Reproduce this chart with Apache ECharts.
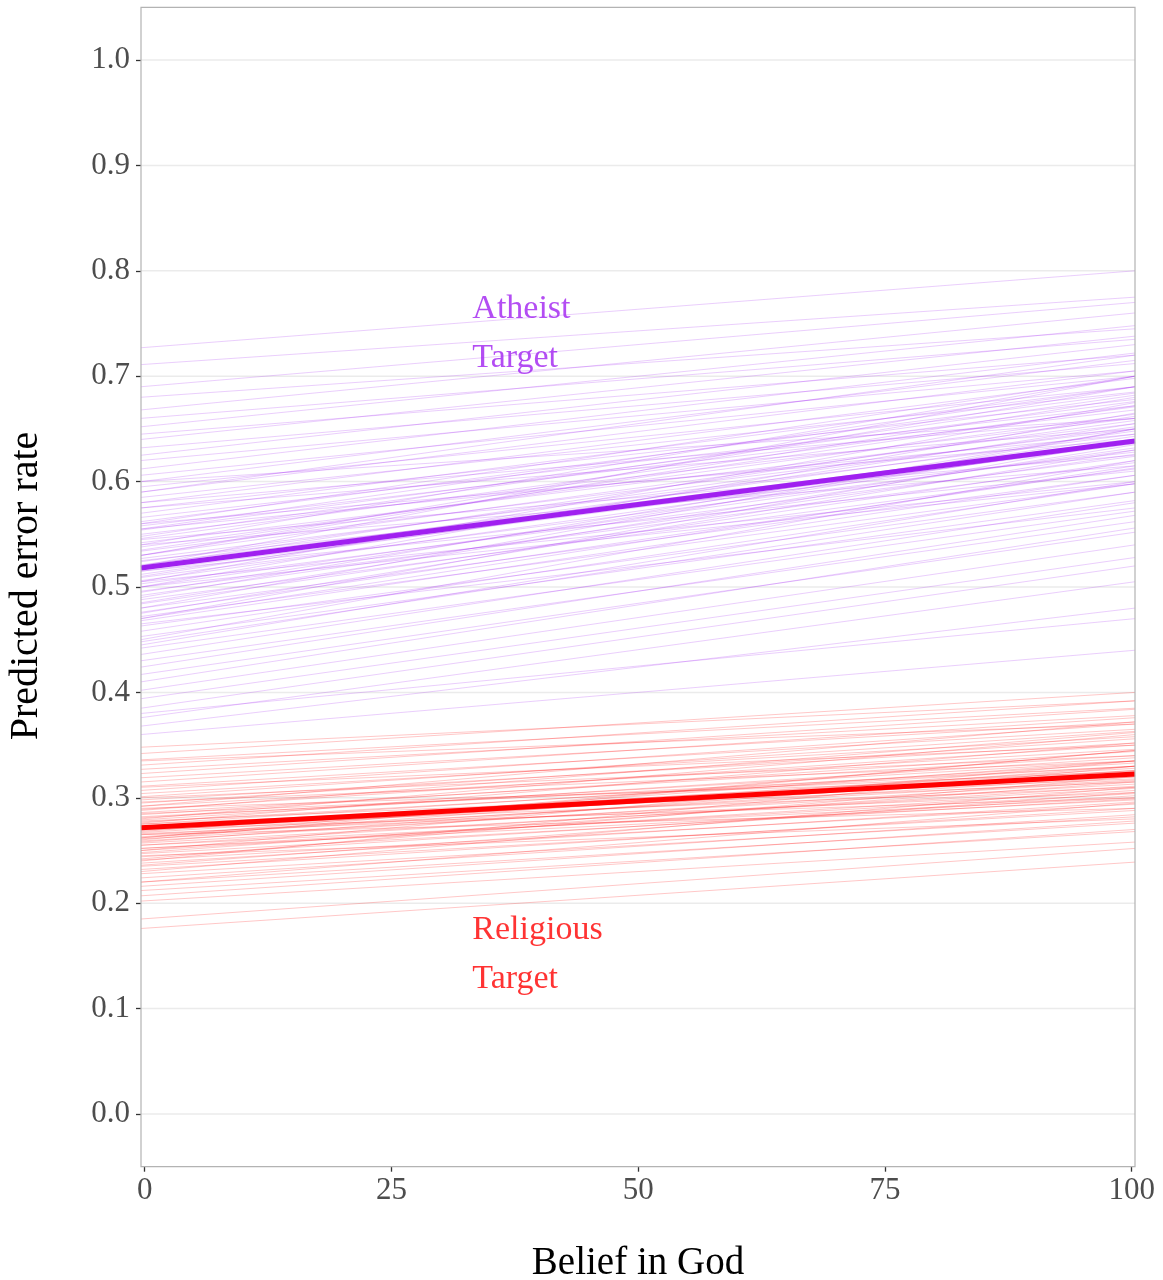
<!DOCTYPE html>
<html>
<head>
<meta charset="utf-8">
<script src="https://cdn.jsdelivr.net/npm/echarts@6/dist/echarts.min.js"></script>
<style>
html,body{margin:0;padding:0;background:#fff;}
#chart{width:1163px;height:1280px;}
</style>
</head>
<body>
<div id="chart"></div>
<script>
// x extent of the panel (lines span the full panel)
var xStart = -0.37;
var xEnd = 100.34;
var xTicks = [0, 25, 50, 75, 100];
var yTicks = [0.0, 0.1, 0.2, 0.3, 0.4, 0.5, 0.6, 0.7, 0.8, 0.9, 1.0];

// Posterior draws, Atheist target: value at left edge, value at right edge
var atheistStart = [0.727,0.711,0.690,0.680,0.668,0.660,0.652,0.645,0.640,0.632,0.625,0.620,0.612,0.606,0.600,0.595,0.590,0.585,0.580,0.575,0.570,0.566,0.562,0.558,0.554,0.550,0.546,0.542,0.538,0.534,0.530,0.527,0.524,0.521,0.518,0.515,0.512,0.509,0.506,0.503,0.500,0.496,0.492,0.488,0.484,0.480,0.476,0.472,0.468,0.463,0.458,0.453,0.448,0.442,0.436,0.430,0.424,0.417,0.410,0.402,0.394,0.385,0.376,0.368,0.470,0.540,0.500,0.560,0.450,0.580,0.380,0.360,0.520,0.600,0.490,0.530,0.545,0.505,0.475,0.555,
  0.535,0.510,0.495,0.525,0.485,0.548,0.515,0.470,0.560,0.500,0.530,0.465,0.590,0.445,0.555,0.520,0.480,0.540,0.575,0.505];
var atheistEnd   = [0.800,0.775,0.770,0.745,0.760,0.735,0.748,0.720,0.738,0.712,0.730,0.705,0.722,0.700,0.715,0.690,0.705,0.685,0.698,0.678,0.690,0.672,0.684,0.668,0.676,0.660,0.671,0.655,0.664,0.650,0.658,0.645,0.652,0.640,0.648,0.636,0.643,0.630,0.638,0.624,0.632,0.618,0.626,0.612,0.620,0.606,0.613,0.598,0.606,0.590,0.598,0.582,0.590,0.572,0.580,0.562,0.568,0.552,0.556,0.540,0.528,0.520,0.505,0.480,0.640,0.615,0.665,0.640,0.620,0.660,0.470,0.440,0.700,0.660,0.650,0.680,0.625,0.600,0.630,0.690,
  0.672,0.655,0.640,0.628,0.635,0.682,0.610,0.615,0.700,0.598,0.690,0.575,0.720,0.600,0.645,0.662,0.650,0.700,0.650,0.675];

// Posterior draws, Religious target
var religiousStart = [0.348,0.342,0.336,0.331,0.327,0.323,0.319,0.315,0.311,0.307,0.304,0.301,0.298,0.295,0.292,0.289,0.286,0.284,0.281,0.279,0.277,0.275,0.273,0.271,0.269,0.267,0.265,0.263,0.261,0.259,0.257,0.255,0.252,0.250,0.247,0.244,0.241,0.238,0.235,0.232,0.228,0.224,0.220,0.216,0.212,0.207,0.202,0.185,0.176,0.260,0.290,0.240,0.300,0.230,0.280,0.270,0.250,0.310,0.220,0.335,0.265,0.245,0.275,0.285,0.255,0.262,
  0.268,0.258,0.278,0.248,0.288,0.272,0.262,0.282,0.252,0.292,0.242,0.276,0.266,0.296,0.236];
var religiousEnd   = [0.392,0.400,0.385,0.392,0.378,0.384,0.372,0.376,0.365,0.370,0.358,0.363,0.352,0.356,0.346,0.350,0.340,0.344,0.335,0.338,0.330,0.333,0.326,0.328,0.321,0.324,0.317,0.320,0.313,0.316,0.309,0.311,0.304,0.307,0.299,0.302,0.294,0.296,0.288,0.290,0.282,0.284,0.276,0.278,0.268,0.270,0.258,0.252,0.239,0.345,0.320,0.330,0.340,0.310,0.360,0.300,0.335,0.350,0.295,0.370,0.290,0.280,0.315,0.325,0.300,0.330,
  0.335,0.326,0.318,0.315,0.362,0.310,0.345,0.330,0.298,0.372,0.320,0.352,0.305,0.335,0.305];

// Posterior mean lines
var atheistMean = [0.518, 0.6385];
var religiousMean = [0.2715, 0.3225];

var labels = [
  {text: 'Atheist\nTarget', x: 33.2, y: 0.740, color: '#A020F0'},
  {text: 'Religious\nTarget', x: 33.2, y: 0.151, color: '#FF0000'}
];

var FONT = '"Liberation Serif", "DejaVu Serif", serif';
var series = [];

function addDraws(starts, ends, color) {
  for (var i = 0; i < starts.length; i++) {
    series.push({
      type: 'line', silent: true, symbol: 'none', animation: false,
      lineStyle: {color: color, width: 1, opacity: 0.22},
      data: [[xStart, starts[i]], [xEnd, ends[i]]],
      z: 2
    });
  }
}
addDraws(atheistStart, atheistEnd, '#A020F0');
addDraws(religiousStart, religiousEnd, '#FF0000');

series.push({
  type: 'line', silent: true, symbol: 'none', animation: false,
  lineStyle: {color: '#A020F0', width: 5},
  data: [[xStart, atheistMean[0]], [xEnd, atheistMean[1]]], z: 5
});
series.push({
  type: 'line', silent: true, symbol: 'none', animation: false,
  lineStyle: {color: '#FF0000', width: 5},
  data: [[xStart, religiousMean[0]], [xEnd, religiousMean[1]]], z: 5
});

labels.forEach(function (l) {
  series.push({
    type: 'scatter', silent: true, animation: false, symbolSize: 0,
    data: [[l.x, l.y]], z: 6,
    label: {
      show: true, position: 'right', distance: 0,
      formatter: l.text, color: l.color,
      fontFamily: FONT, fontSize: 34, lineHeight: 49,
      align: 'left', verticalAlign: 'middle'
    }
  });
});

var chart = echarts.init(document.getElementById('chart'));
chart.setOption({
  animation: false,
  backgroundColor: '#ffffff',
  grid: {left: 141, right: 28, top: 7.3, bottom: 113.3, show: true,
         borderColor: '#b3b3b3', borderWidth: 1.2, backgroundColor: 'transparent', z: 10},
  xAxis: {
    type: 'value', min: xStart, max: xEnd,
    axisLine: {show: false, onZero: false},
    axisTick: {show: true, inside: false, length: 5, lineStyle: {color: '#333333', width: 1.3},
               customValues: xTicks},
    axisLabel: {show: true, customValues: xTicks, margin: 9, color: '#4d4d4d',
                fontFamily: FONT, fontSize: 31},
    splitLine: {show: false}
  },
  yAxis: {
    type: 'value', min: -0.05, max: 1.05,
    axisLine: {show: false, onZero: false},
    axisTick: {show: true, length: 5, lineStyle: {color: '#333333', width: 1.3},
               customValues: yTicks},
    axisLabel: {show: true, customValues: yTicks, margin: 11, color: '#4d4d4d',
                fontFamily: FONT, fontSize: 31,
                formatter: function (v) { return v.toFixed(1); }},
    splitLine: {show: false}
  },
  graphic: [
    {type: 'text', x: 638, y: 1264, style: {text: 'Belief in God', x: 0, y: 0,
      fill: '#000', font: '39px ' + FONT, textAlign: 'center', textVerticalAlign: 'middle'}},
    {type: 'text', x: 26, y: 586, rotation: Math.PI / 2,
      style: {text: 'Predicted error rate', x: 0, y: 0, fill: '#000', font: '40px ' + FONT,
              textAlign: 'center', textVerticalAlign: 'middle'}}
  ],
  series: series.concat(yTicks.map(function (t) {
    return {
      type: 'line', silent: true, symbol: 'none', animation: false, z: 1,
      lineStyle: {color: '#ebebeb', width: 1.5},
      data: [[xStart, t], [xEnd, t]]
    };
  }))
});
</script>
</body>
</html>
